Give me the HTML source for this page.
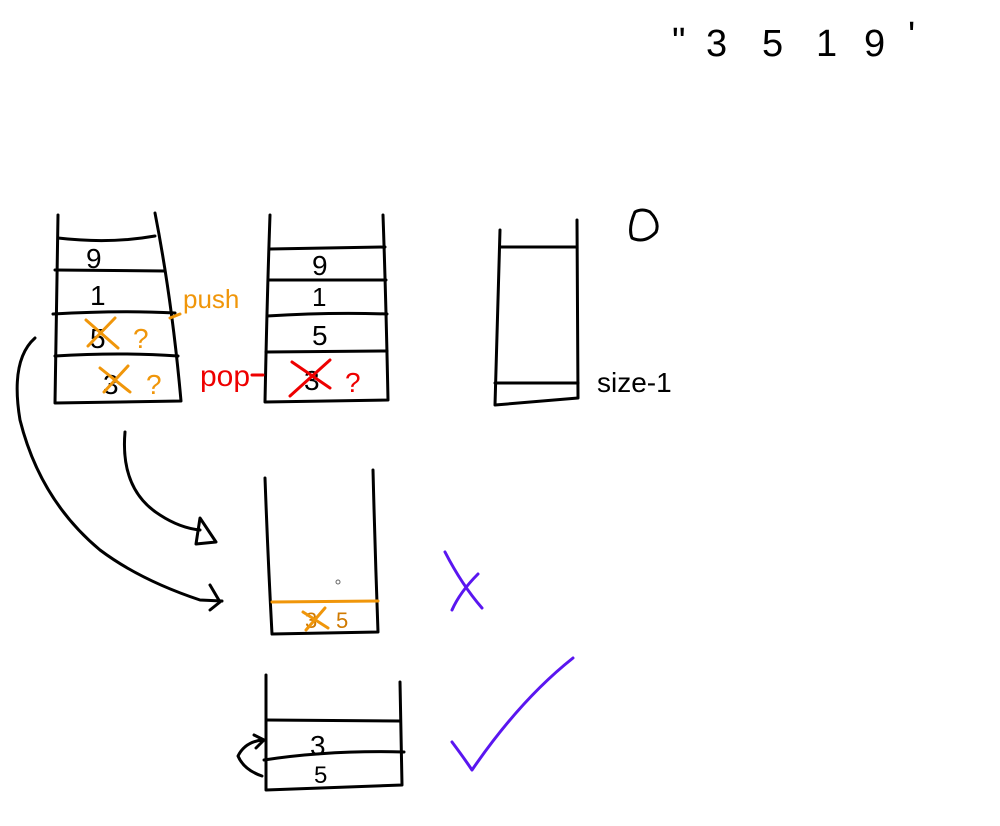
<!DOCTYPE html>
<html><head><meta charset="utf-8"><style>
html,body{margin:0;padding:0;background:#fff;}
svg{display:block;}
text{font-family:"Liberation Sans",sans-serif;}
</style></head><body>
<svg width="1000" height="826" viewBox="0 0 1000 826" fill="none" stroke-linecap="round" stroke-linejoin="round">
<g font-size="38" fill="#000">
<text x="672" y="54">"</text>
<text x="706" y="56">3</text>
<text x="762" y="56">5</text>
<text x="816" y="56">1</text>
<text x="864" y="56">9</text>
<text x="908" y="48">'</text>
</g>
<g stroke="#000" stroke-width="3">
<path d="M58 215 Q57 300 55 403 L181 401 Q172 300 155 213"/>
<path d="M58 238 Q110 244 155 236"/>
<path d="M55 270 L165 271"/>
<path d="M53 314 Q120 310 175 313"/>
<path d="M55 356 Q120 352 178 356"/>
</g>
<text x="86" y="268" font-size="28" fill="#000">9</text>
<text x="90" y="305" font-size="28" fill="#000">1</text>
<text x="90" y="348" font-size="28" fill="#000">5</text>
<text x="103" y="394" font-size="28" fill="#000">3</text>
<g stroke="#f0960a" stroke-width="3">
<path d="M86 320 L118 348 M115 318 L88 346"/>
<path d="M100 368 L130 392 M128 366 L104 392"/>
<path d="M170 318 L180 314"/>
</g>
<text x="133" y="348" font-size="28" fill="#f0960a">?</text>
<text x="146" y="394" font-size="28" fill="#f0960a">?</text>
<text x="183" y="308" font-size="26" fill="#f0960a">push</text>
<g stroke="#000" stroke-width="3">
<path d="M270 215 Q267 300 265 402 L388 400 Q386 300 383 215"/>
<path d="M270 249 L385 247"/>
<path d="M268 280 L386 280"/>
<path d="M267 316 Q330 312 387 314"/>
<path d="M266 352 L387 351"/>
</g>
<text x="312" y="275" font-size="28" fill="#000">9</text>
<text x="312" y="306" font-size="26" fill="#000">1</text>
<text x="312" y="345" font-size="28" fill="#000">5</text>
<text x="304" y="390" font-size="28" fill="#000">3</text>
<g stroke="#e00" stroke-width="3">
<path d="M292 362 L330 388 M330 360 L290 396"/>
<path d="M252 375 L263 375"/>
</g>
<text x="345" y="392" font-size="28" fill="#e00">?</text>
<text x="200" y="386" font-size="30" fill="#e00">pop</text>
<g stroke="#000" stroke-width="3">
<path d="M500 230 L495 405 L578 398 L577 220"/>
<path d="M500 247 L577 247"/>
<path d="M495 383 L578 383"/>
</g>
<text x="597" y="392" font-size="28" fill="#000">size-1</text>
<path d="M635 212 Q628 228 632 238 Q645 244 656 232 Q660 222 650 212 Q642 208 635 212 Z" stroke="#000" stroke-width="3"/>
<g stroke="#000" stroke-width="3">
<path d="M125 432 Q120 490 160 515 Q180 528 200 530"/>
<path d="M200 518 L216 542 L196 544 Z"/>
<path d="M35 338 Q10 360 20 420 Q40 500 100 550 Q140 580 200 600 L222 601"/>
<path d="M210 585 L220 602 L210 610"/>
</g>
<g stroke="#000" stroke-width="3">
<path d="M265 478 Q268 560 272 634 L378 632 Q375 550 373 470"/>
</g>
<path d="M272 602 L378 601" stroke="#f0960a" stroke-width="3"/>
<text x="305" y="628" font-size="22" fill="#d07a00">3</text>
<path d="M303 612 L328 628 M325 608 L306 630" stroke="#f0960a" stroke-width="3"/>
<text x="336" y="628" font-size="22" fill="#d07a00">5</text>
<circle cx="338" cy="582" r="2" stroke="#666" stroke-width="1"/>
<path d="M445 552 Q462 585 482 608 M478 574 Q460 592 452 610" stroke="#5a16f0" stroke-width="3"/>
<g stroke="#000" stroke-width="3">
<path d="M266 675 L266 790 L402 785 L400 682"/>
<path d="M266 720 L400 721"/>
<path d="M264 760 Q330 750 404 752"/>
<path d="M262 740 Q245 742 238 756 Q244 770 262 776 M254 735 L264 740 L256 748"/>
</g>
<text x="310" y="755" font-size="28" fill="#000">3</text>
<text x="314" y="783" font-size="24" fill="#000">5</text>
<path d="M452 742 Q464 758 472 770 Q520 700 573 658" stroke="#5a16f0" stroke-width="3"/>
</svg>
</body></html>
